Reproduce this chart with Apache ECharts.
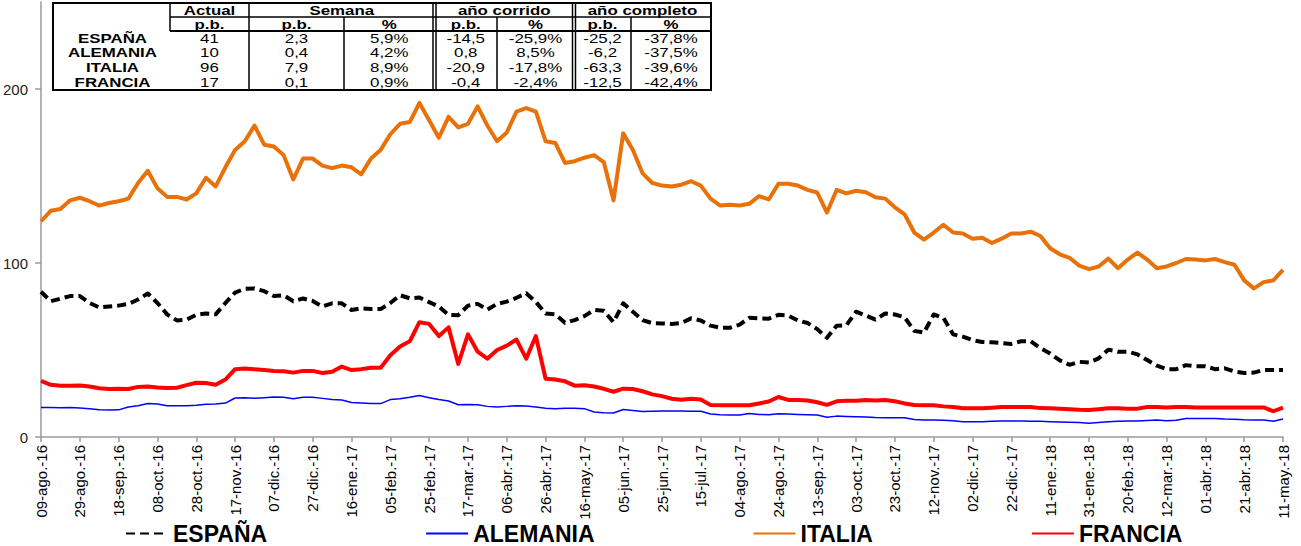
<!DOCTYPE html>
<html><head><meta charset="utf-8">
<script src="https://cdn.jsdelivr.net/npm/echarts@6/dist/echarts.min.js"></script>
<style>html,body{margin:0;padding:0;background:#fff}#c{width:1301px;height:546px}</style>
</head><body><div id="c"></div>
<script>
// ---- data (5-day steps from 09-ago-16 to 11-may-18) ----
const monthNames = ['ene','feb','mar','abr','may','jun','jul','ago','sep','oct','nov','dic'];
const espana = [83.5,78,79.5,81,81,77,74.5,75,75.5,76.5,
79,82.5,77,70.5,67,67.5,70.2,71,70.5,77,
83,85.2,85.4,83.8,81,81.5,78,79.6,78.2,75,
76.8,76.8,73,74,73.5,73.5,77,81.5,79.7,80.2,
77.5,75,70.2,70,75.5,76.5,73.2,76.5,77.8,80,
82.6,77.6,71,70.5,65.6,67.2,69.5,73,72.5,66,
76.8,72,67.2,65.4,65.3,65,65.5,68.2,67,64,
62.8,62.8,64.6,68.5,68.2,68,70.2,69.8,67,65.5,
62,57,64,64.2,72,69.8,67.5,71,70.4,68.8,
61,60,70.4,68.5,59,57.7,55.7,54.6,54.4,54,
53.5,55,55,51,48,44,41.5,43.2,42.8,45.2,
50.2,49,49,47.5,44.2,41,39,39,41.3,40.6,
40.6,39,39.5,37.6,36.8,37,38.5,38.5,38.5];
const alemania = [16.9,16.9,16.8,16.9,16.6,16.2,15.7,15.5,15.6,17.2,
18,19.3,19,18,18,18,18.2,18.8,18.9,19.5,
22.4,22.5,22.3,22.6,23,22.8,22,22.8,22.8,22.2,
21.5,21.3,19.8,19.5,19.2,19.2,21.5,22,22.8,23.8,
22.6,21.5,20.7,18.5,18.7,18.5,17.6,17.2,17.6,18,
17.8,17.2,16.5,16.3,16.5,16.5,16.3,14.4,14,13.8,
15.8,15.2,14.6,14.8,14.9,14.9,14.9,14.8,14.8,13.2,
12.8,12.6,12.6,13.5,13,12.8,13.4,13.2,13,12.8,
12.6,11.3,12,11.8,11.7,11.5,11.2,11.1,11.1,11.1,
10,9.8,9.8,9.6,9.4,8.8,8.7,8.8,9.1,9.2,
9.2,9.2,9.1,9,8.8,8.6,8.5,8.3,7.9,8.3,
8.8,9.1,9.2,9.2,9.5,9.8,9.3,9.6,10.6,10.6,
10.6,10.6,10.3,10.2,9.9,9.8,9.8,9.1,10.3];
const italia = [124,130,131,136,137.5,135.5,133,134.5,135.5,137,
146,153,143,138,138,136.5,140,149,144,155,
165,170,179,168,167,162,148,160,160,156,
154.5,156,155,151,160,165,174,180,181,192,
182,172,184,178,180,190,179,170,175,187,
189,187,170,169,157.5,158.5,160.5,162,158,136,
174.5,165,151.5,146,144.5,144,145,147,144.5,137,
133,133.5,133,134,138.5,136.5,145.5,145.5,144.5,142,
140.5,129,142,140,141.5,140.7,137.8,137,132,128,
117.5,113.5,117.5,122,117.5,117,114,114.5,111.5,114,
117,117,118,115.5,108.5,105,103,98.5,96.5,98,
102.5,97,102,106,102,97,98,100,102.3,102,
101.5,102.3,100.5,99,90,85.4,89,90,96];
const francia = [32.2,30,29.5,29.4,29.6,29,28,27.6,27.8,27.6,
28.8,29,28.5,28.2,28.3,29.8,31.2,31,30,33,
39,39.3,39,38.5,37.9,37.8,37,38,38,36.8,
37.5,40.5,38.5,39,39.8,39.8,47,52,55,66,
65,58,63,42,59,49,45,50,52.5,56,
45,58,33.5,33,32,29.5,29.7,29,27.7,26,
27.8,27.6,26.3,24.5,23.5,22,21.4,22,21.5,18.4,
18.2,18.2,18.2,18.3,19.3,20.4,23,21.3,21.3,21,
20,18.5,20.5,20.8,20.8,21.3,21,21.3,20.5,19.3,
18.4,18.2,18.2,17.6,17.3,16.5,16.5,16.5,16.8,17.2,
17.2,17.2,17.2,16.6,16.5,16.2,16,15.6,15.5,16,
16.5,16.5,16.3,16.3,17.2,17.2,17,17.2,17.2,17,
17,17,17,16.9,16.9,16.9,17,14.8,16.9];
const yTicks = [0, 100, 200];
const seriesNames = ['ESPAÑA','ALEMANIA','ITALIA','FRANCIA'];

// table
const tableGroups = ['Actual','Semana','año corrido','año completo'];
const tableSub = ['p.b.','p.b.','%','p.b.','%','p.b.','%'];
const tableRowLabels = ['ESPAÑA','ALEMANIA','ITALIA','FRANCIA'];
const tableRows = [
  ['41','2,3','5,9%','-14,5','-25,9%','-25,2','-37,8%'],
  ['10','0,4','4,2%','0,8','8,5%','-6,2','-37,5%'],
  ['96','7,9','8,9%','-20,9','-17,8%','-63,3','-39,6%'],
  ['17','0,1','0,9%','-0,4','-2,4%','-12,5','-42,4%']
];

// categories: dates every 5 days
const pad = n => (n < 10 ? '0' : '') + n;
const categories = espana.map((_, i) => {
  const d = new Date(Date.UTC(2016, 7, 9 + i * 5));
  return pad(d.getUTCDate()) + '-' + monthNames[d.getUTCMonth()] + '.-' + String(d.getUTCFullYear()).slice(2);
});

// ---- table graphics ----
const FONT = "'Liberation Sans', Arial, Helvetica, sans-serif";
const colEdges = [170, 249, 344, 434.5, 497, 574, 631, 711];
const T = {left: 53, right: 711, top: 3, r1: 17, r2: 31, bottom: 90};
const g = [];
const line = (x1, y1, x2, y2, w) => g.push({type: 'line', shape: {x1, y1, x2, y2}, style: {stroke: '#000', lineWidth: w}, z: 101});
const txt = (x, y, text, bold) => g.push({type: 'text', x, y, scaleX: 1.35, z: 102,
  style: {text, x: 0, y: 0, align: 'center', verticalAlign: 'middle', fill: '#000',
    font: (bold ? 'bold ' : '') + '12.5px ' + FONT}});
g.push({type: 'rect', shape: {x: T.left, y: T.top, width: T.right - T.left, height: T.bottom - T.top},
  style: {fill: '#fff', stroke: '#000', lineWidth: 2}, z: 100});
line(colEdges[0], T.r1, T.right, T.r1, 1.5);
line(colEdges[0], T.r2, T.right, T.r2, 2);
line(colEdges[0], T.top, colEdges[0], T.r2, 1.5);
line(colEdges[1], T.top, colEdges[1], T.bottom, 1.5);
line(colEdges[2], T.r1, colEdges[2], T.bottom, 1.5);
line(colEdges[3] - 1.5, T.top, colEdges[3] - 1.5, T.bottom, 1.5);
line(colEdges[3] + 1.5, T.top, colEdges[3] + 1.5, T.bottom, 1.5);
line(colEdges[4], T.r1, colEdges[4], T.bottom, 1.5);
line(colEdges[5] - 1.5, T.top, colEdges[5] - 1.5, T.bottom, 1.5);
line(colEdges[5] + 1.5, T.top, colEdges[5] + 1.5, T.bottom, 1.5);
line(colEdges[6], T.r1, colEdges[6], T.bottom, 1.5);
const groupSpans = [[0, 1], [1, 3], [3, 5], [5, 7]];
tableGroups.forEach((t, i) => {
  const a = colEdges[groupSpans[i][0]], b = colEdges[groupSpans[i][1]];
  txt((a + b) / 2, (T.top + T.r1) / 2 + 0.5, t, true);
});
const colCenter = k => (colEdges[k] + colEdges[k + 1]) / 2;
tableSub.forEach((t, k) => txt(colCenter(k), (T.r1 + T.r2) / 2 + 0.5, t, true));
const rowH = (T.bottom - T.r2) / tableRows.length;
tableRows.forEach((row, r) => {
  const y = T.r2 + rowH * (r + 0.5);
  txt((T.left + colEdges[0]) / 2 + 1, y, tableRowLabels[r], true);
  row.forEach((v, k) => txt(colCenter(k), y, v, false));
});

// ---- chart ----
const chart = echarts.init(document.getElementById('c'), null, {renderer: 'svg'});
const mk = (name, data, color, width, type) => ({
  name, type: 'line', data, symbol: 'none', showSymbol: false, smooth: false,
  lineStyle: {color, width, type, cap: 'butt', join: 'round'}, itemStyle: {color},
  emphasis: {disabled: true}
});
chart.setOption({
  animation: false,
  textStyle: {fontFamily: FONT},
  grid: {left: 40, right: 18, top: 2, bottom: 109},
  legend: {
    data: seriesNames, left: 120, top: 517, itemGap: 158, itemWidth: 42, itemHeight: 12,
    itemStyle: {opacity: 0, borderWidth: 0},
    textStyle: {fontSize: 23, lineHeight: 23, fontWeight: 'bold', color: '#000', fontFamily: FONT, padding: [0, 0, 0, 0]}
  },
  xAxis: {
    type: 'category', data: categories, boundaryGap: false,
    axisLine: {lineStyle: {color: '#9a9a9a', width: 1.5}},
    axisTick: {interval: 3, length: 5, lineStyle: {color: '#9a9a9a', width: 1.5}},
    axisLabel: {interval: 3, rotate: 90, fontSize: 15, color: '#000', margin: 8, fontFamily: FONT},
    splitLine: {show: false}
  },
  yAxis: {
    type: 'value', min: 0, max: 250, interval: 50,
    axisLine: {show: true, lineStyle: {color: '#9a9a9a', width: 1.5}},
    axisTick: {show: true, length: 6, customValues: yTicks, lineStyle: {color: '#9a9a9a', width: 1.5}},
    axisLabel: {fontSize: 15, color: '#222', margin: 13, customValues: yTicks, fontFamily: FONT},
    splitLine: {show: false}
  },
  series: [
    mk('ESPAÑA', espana, '#000000', 4, [9, 5]),
    mk('ALEMANIA', alemania, '#0000ff', 1.5, 'solid'),
    mk('ITALIA', italia, '#e8710a', 4, 'solid'),
    mk('FRANCIA', francia, '#ff0000', 4, 'solid')
  ],
  graphic: g
});
</script></body></html>
